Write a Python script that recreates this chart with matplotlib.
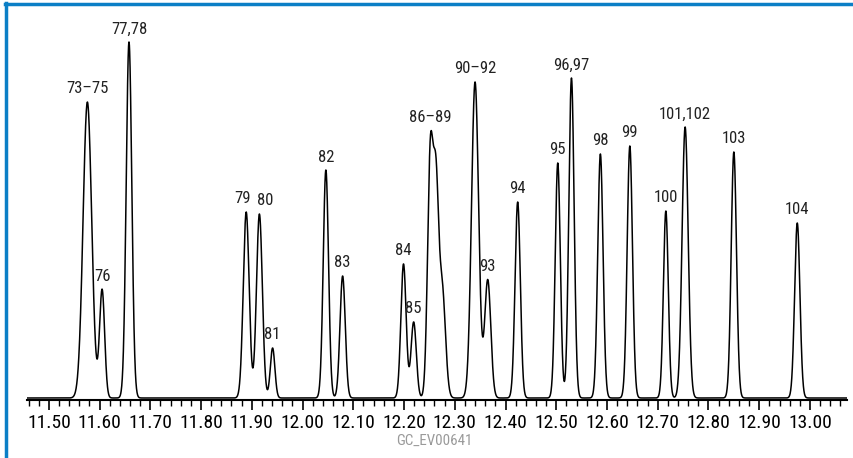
import numpy as np
import matplotlib
matplotlib.use('Agg')
import matplotlib.pyplot as plt
from matplotlib.lines import Line2D
from matplotlib.ticker import MultipleLocator, FormatStrFormatter

plt.rcParams['font.family'] = ['Roboto Condensed', 'DejaVu Sans']

# peak components: retention time (min), height, width (sigma)
comp_rt    = [11.576, 11.605, 11.658, 11.889, 11.915, 11.941, 12.046, 12.079,
              12.199, 12.219, 12.252, 12.263, 12.275, 12.340, 12.365, 12.424,
              12.503, 12.530, 12.587, 12.645, 12.716, 12.754, 12.850, 12.975]
comp_h     = [296, 108, 356, 186, 184, 50, 228, 122,
              134, 76, 245, 188, 110, 316, 118, 196,
              235, 320, 244, 252, 187, 271, 246, 175]
comp_sigma = [0.0085, 0.005, 0.0055, 0.0058, 0.0058, 0.0045, 0.0052, 0.0052,
              0.0052, 0.0052, 0.0055, 0.005, 0.0065, 0.007, 0.006, 0.0052,
              0.005, 0.0052, 0.0052, 0.0052, 0.0048, 0.006, 0.0052, 0.0052]

# peak labels
label_rt   = [11.576, 11.605, 11.658, 11.889, 11.915, 11.941, 12.046, 12.079,
              12.199, 12.219, 12.252, 12.340, 12.365, 12.424, 12.503, 12.530,
              12.587, 12.645, 12.716, 12.754, 12.850, 12.975]
label_text = ['73\u201375', '76', '77,78', '79', '80', '81', '82', '83',
              '84', '85', '86\u201389', '90\u201392', '93', '94', '95', '96,97',
              '98', '99', '100', '101,102', '103', '104']

X_MIN, X_MAX = 11.457, 13.073

t = np.linspace(X_MIN, X_MAX, 6000)
signal = np.zeros_like(t)
for rt, h, s in zip(comp_rt, comp_h, comp_sigma):
    signal += h * np.exp(-0.5 * ((t - rt) / s) ** 2)

fig = plt.figure(figsize=(8.54, 4.58), dpi=100)
ax = fig.add_axes([27 / 854, 58 / 458, 820 / 854, 380 / 458])
ax.plot(t, signal, color='black', lw=1.1)

nudge = {'79': -2.5, '80': 4.5}   # keep the two close labels apart
for rt, txt in zip(label_rt, label_text):
    i = np.argmin(np.abs(t - rt))
    y = signal[max(i - 15, 0):i + 15].max()
    ax.annotate(txt, (rt, y), xytext=(nudge.get(txt, 0), 4), textcoords='offset points',
                ha='center', va='bottom', fontsize=12, color='#222222')

ax.set_xlim(X_MIN, X_MAX)
ax.set_ylim(-2, 378)
ax.xaxis.set_major_locator(MultipleLocator(0.1))
ax.xaxis.set_minor_locator(MultipleLocator(0.02))
ax.xaxis.set_major_formatter(FormatStrFormatter('%.2f'))
ax.tick_params(axis='x', which='major', direction='out', length=7, width=1.2,
               labelsize=14, pad=3, colors='black')
ax.tick_params(axis='x', which='minor', direction='out', length=4, width=1.0)
ax.set_yticks([])
for s in ['left', 'right', 'top']:
    ax.spines[s].set_visible(False)
ax.spines['bottom'].set_linewidth(1.5)
ax.patch.set_alpha(0)

fig.text(434 / 854, 1 - 441 / 458, 'GC_EV00641', ha='center', va='center',
         fontsize=10.8, color='#9a9a9a')

# blue frame on left and top
fig.add_artist(Line2D([6 / 854, 6 / 854], [0, 1 - 3 / 458], color='#0b7fc6', lw=2.5))
fig.add_artist(Line2D([5 / 854, 1], [1 - 4 / 458, 1 - 4 / 458], color='#0b7fc6', lw=2.5))

fig.savefig('out.png', dpi=100)
